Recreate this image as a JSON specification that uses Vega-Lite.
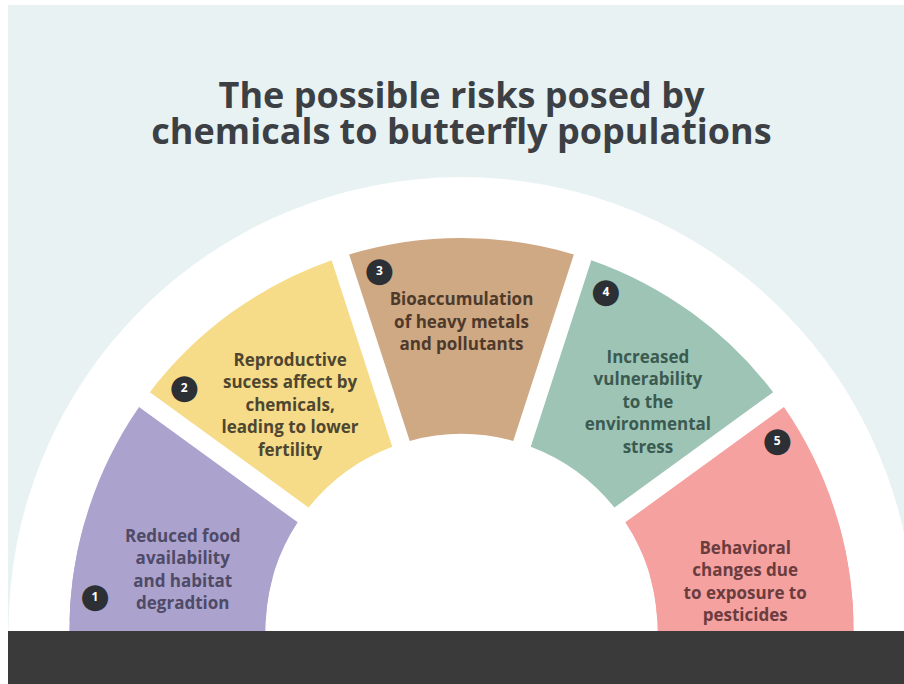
{
  "$schema": "https://vega.github.io/schema/vega-lite/v6.json",
  "width": 896,
  "height": 679,
  "autosize": {"type": "none"},
  "padding": {"left": 8, "top": 5, "right": 0, "bottom": 0},
  "background": "#ffffff",
  "config": {"view": {"stroke": null, "fill": "#e8f2f3"}},
  "title": {
    "text": ["The possible risks posed by", "chemicals to butterfly populations"],
    "anchor": "middle",
    "frame": "group",
    "orient": "top",
    "offset": -74,
    "baseline": "top",
    "dx": 5.5,
    "dy": 73,
    "font": "Open Sans",
    "fontSize": 36,
    "fontWeight": 700,
    "lineHeight": 36.5,
    "color": "#3c4044"
  },
  "data": {
    "values": [
      {"n": 1, "share": 1, "label": "Reduced food\navailability\nand habitat\ndegradtion"},
      {"n": 2, "share": 1, "label": "Reproductive\nsucess affect by\nchemicals,\nleading to lower\nfertility"},
      {"n": 3, "share": 1, "label": "Bioaccumulation\nof heavy metals\nand pollutants"},
      {"n": 4, "share": 1, "label": "Increased\nvulnerability\nto the\nenvironmental\nstress"},
      {"n": 5, "share": 1, "label": "Behavioral\nchanges due\nto exposure to\npesticides"}
    ]
  },
  "layer": [
    {
      "data": {"values": [{"shape": "backdrop"}]},
      "mark": {"type": "arc", "radius": 453, "theta": 0, "theta2": 6.2832, "fill": "#ffffff"},
      "encoding": {
        "x": {"datum": 0, "type": "quantitative", "scale": {"domain": [-453.5, 442.5], "nice": false, "zero": false}, "axis": null},
        "y": {"datum": 0, "type": "quantitative", "scale": {"domain": [-54, 625], "nice": false, "zero": false}, "axis": null}
      }
    },
    {
      "mark": {"type": "arc", "radius": 392, "radius2": 196, "padAngle": 0.042},
      "encoding": {
        "x": {"datum": 0, "type": "quantitative", "axis": null},
        "y": {"datum": 0, "type": "quantitative", "axis": null},
        "theta": {"field": "share", "type": "quantitative", "stack": true, "scale": {"domain": [0, 5], "range": [-1.5708, 1.5708]}},
        "order": {"field": "n"},
        "color": {"field": "n", "type": "nominal", "legend": null, "scale": {"domain": [1, 2, 3, 4, 5], "range": ["#aba3ce", "#f6dc88", "#cfa884", "#9ec4b6", "#f4a1a0"]}}
      }
    },
    {
      "transform": [{"filter": "datum.n === 1"}],
      "mark": {"type": "arc", "radius": 392, "radius2": 196, "theta": -1.8, "theta2": -1.3},
      "encoding": {
        "x": {"datum": 0, "type": "quantitative", "axis": null},
        "y": {"datum": 0, "type": "quantitative", "axis": null},
        "color": {"field": "n", "type": "nominal", "legend": null}
      }
    },
    {
      "transform": [{"filter": "datum.n === 5"}],
      "mark": {"type": "arc", "radius": 392, "radius2": 196, "theta": 1.3, "theta2": 1.8},
      "encoding": {
        "x": {"datum": 0, "type": "quantitative", "axis": null},
        "y": {"datum": 0, "type": "quantitative", "axis": null},
        "color": {"field": "n", "type": "nominal", "legend": null}
      }
    },
    {
      "data": {"values": [{"shape": "footer"}]},
      "mark": {"type": "rect", "fill": "#3a3a3a"},
      "encoding": {
        "x": {"datum": -453.5, "type": "quantitative", "axis": null},
        "x2": {"datum": 442.5},
        "y": {"datum": -1, "type": "quantitative", "axis": null},
        "y2": {"datum": -54}
      }
    },
    {
      "mark": {"type": "text", "font": "Open Sans", "fontWeight": 700, "fontSize": 17, "lineBreak": "\n", "lineHeight": 22.5, "align": "center", "baseline": "middle", "radius": 294, "thetaOffset": 0.009, "fill": "#4f4a66"},
      "encoding": {
        "x": {"datum": 0, "type": "quantitative", "axis": null},
        "y": {"datum": 0, "type": "quantitative", "axis": null},
        "theta": {"field": "share", "type": "quantitative", "stack": true},
        "order": {"field": "n"},
        "text": {"condition": {"test": "datum.n === 1", "field": "label", "type": "nominal"}, "value": ""}
      }
    },
    {
      "mark": {"type": "text", "font": "Open Sans", "fontWeight": 700, "fontSize": 17, "lineBreak": "\n", "lineHeight": 22.5, "align": "center", "baseline": "middle", "radius": 319, "thetaOffset": 0.061, "fill": "#4f4631"},
      "encoding": {
        "x": {"datum": 0, "type": "quantitative", "axis": null},
        "y": {"datum": 0, "type": "quantitative", "axis": null},
        "theta": {"field": "share", "type": "quantitative", "stack": true},
        "order": {"field": "n"},
        "text": {"condition": {"test": "datum.n === 2", "field": "label", "type": "nominal"}, "value": ""}
      }
    },
    {
      "mark": {"type": "text", "font": "Open Sans", "fontWeight": 700, "fontSize": 17, "lineBreak": "\n", "lineHeight": 22.5, "align": "center", "baseline": "middle", "radius": 330, "thetaOffset": 0, "fill": "#4e3a2b"},
      "encoding": {
        "x": {"datum": 0, "type": "quantitative", "axis": null},
        "y": {"datum": 0, "type": "quantitative", "axis": null},
        "theta": {"field": "share", "type": "quantitative", "stack": true},
        "order": {"field": "n"},
        "text": {"condition": {"test": "datum.n === 3", "field": "label", "type": "nominal"}, "value": ""}
      }
    },
    {
      "mark": {"type": "text", "font": "Open Sans", "fontWeight": 700, "fontSize": 17, "lineBreak": "\n", "lineHeight": 22.5, "align": "center", "baseline": "middle", "radius": 330, "thetaOffset": -0.028, "fill": "#3b5a50"},
      "encoding": {
        "x": {"datum": 0, "type": "quantitative", "axis": null},
        "y": {"datum": 0, "type": "quantitative", "axis": null},
        "theta": {"field": "share", "type": "quantitative", "stack": true},
        "order": {"field": "n"},
        "text": {"condition": {"test": "datum.n === 4", "field": "label", "type": "nominal"}, "value": ""}
      }
    },
    {
      "mark": {"type": "text", "font": "Open Sans", "fontWeight": 700, "fontSize": 17, "lineBreak": "\n", "lineHeight": 22.5, "align": "center", "baseline": "middle", "radius": 295, "thetaOffset": 0.036, "fill": "#6b3c3e"},
      "encoding": {
        "x": {"datum": 0, "type": "quantitative", "axis": null},
        "y": {"datum": 0, "type": "quantitative", "axis": null},
        "theta": {"field": "share", "type": "quantitative", "stack": true},
        "order": {"field": "n"},
        "text": {"condition": {"test": "datum.n === 5", "field": "label", "type": "nominal"}, "value": ""}
      }
    },
    {
      "mark": {"type": "text", "font": "DejaVu Sans", "fontSize": 34, "align": "center", "baseline": "middle", "radius": 368, "thetaOffset": -0.225, "fill": "#2c2f34"},
      "encoding": {
        "x": {"datum": 0, "type": "quantitative", "axis": null},
        "y": {"datum": 0, "type": "quantitative", "axis": null},
        "theta": {"field": "share", "type": "quantitative", "stack": true},
        "order": {"field": "n"},
        "text": {"value": "●"}
      }
    },
    {
      "mark": {"type": "text", "font": "Open Sans", "fontWeight": 700, "fontSize": 12, "align": "center", "baseline": "middle", "radius": 368, "thetaOffset": -0.225, "fill": "#ffffff"},
      "encoding": {
        "x": {"datum": 0, "type": "quantitative", "axis": null},
        "y": {"datum": 0, "type": "quantitative", "axis": null},
        "theta": {"field": "share", "type": "quantitative", "stack": true},
        "order": {"field": "n"},
        "text": {"field": "n", "type": "nominal"}
      }
    }
  ]
}
